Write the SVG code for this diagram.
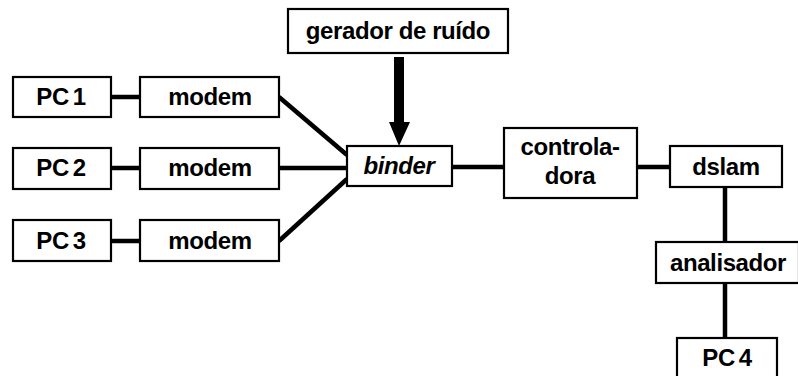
<svg xmlns="http://www.w3.org/2000/svg" width="798" height="376" viewBox="0 0 798 376">
<style>
.box{fill:#fff;stroke:#000;stroke-width:2.2}
.t{font-family:"Liberation Sans",Arial,sans-serif;font-weight:bold;font-size:24px;letter-spacing:-0.4px;text-anchor:middle;fill:#000}
.pc{word-spacing:-2.5px}
.ln{stroke:#000;stroke-width:4.5;fill:none}
</style>
<rect width="798" height="376" fill="#fff"/>
<g id="connectors">
<line class="ln" x1="111" y1="97" x2="140" y2="97"/>
<line class="ln" x1="111" y1="168" x2="140" y2="168"/>
<line class="ln" x1="111" y1="241" x2="140" y2="241"/>
<line class="ln" x1="279" y1="97" x2="347" y2="155"/>
<line class="ln" x1="279" y1="168" x2="347" y2="168"/>
<line class="ln" x1="279" y1="241" x2="347" y2="179"/>
<line class="ln" x1="452" y1="167" x2="504" y2="167"/>
<line class="ln" x1="637" y1="167" x2="670" y2="167"/>
<line class="ln" x1="725" y1="187" x2="725" y2="242"/>
<line class="ln" x1="725" y1="283" x2="725" y2="338"/>
<polygon points="394,57 404,57 404,122 410,122 399,146 389,122 394,122" fill="#000"/>
</g>
<g id="gerador"><rect class="box" x="288" y="9" width="220" height="44"/><text class="t" x="398" y="39">gerador de ruído</text></g>
<g id="pc1"><rect class="box" x="13" y="77" width="98" height="40"/><text class="t pc" x="61" y="105">PC 1</text></g>
<g id="modem1"><rect class="box" x="140" y="77" width="139" height="40"/><text class="t" x="210" y="105">modem</text></g>
<g id="pc2"><rect class="box" x="13" y="148" width="98" height="41"/><text class="t pc" x="61" y="176">PC 2</text></g>
<g id="modem2"><rect class="box" x="140" y="148" width="139" height="41"/><text class="t" x="210" y="176">modem</text></g>
<g id="pc3"><rect class="box" x="13" y="220" width="98" height="41"/><text class="t pc" x="61" y="249">PC 3</text></g>
<g id="modem3"><rect class="box" x="140" y="220" width="139" height="41"/><text class="t" x="210" y="249">modem</text></g>
<g id="binder"><rect class="box" x="347" y="146" width="105" height="40"/><text class="t" x="399" y="174" font-style="italic">binder</text></g>
<g id="controladora"><rect class="box" x="504" y="128" width="133" height="70"/><text class="t" x="570" y="155">controla-</text><text class="t" x="570" y="184">dora</text></g>
<g id="dslam"><rect class="box" x="670" y="146" width="112" height="41"/><text class="t" x="726" y="175">dslam</text></g>
<g id="analisador"><rect class="box" x="656" y="242" width="143" height="41"/><text class="t" x="728" y="271">analisador</text></g>
<g id="pc4"><rect class="box" x="677" y="338" width="100" height="44"/><text class="t pc" x="727" y="366">PC 4</text></g>
</svg>
